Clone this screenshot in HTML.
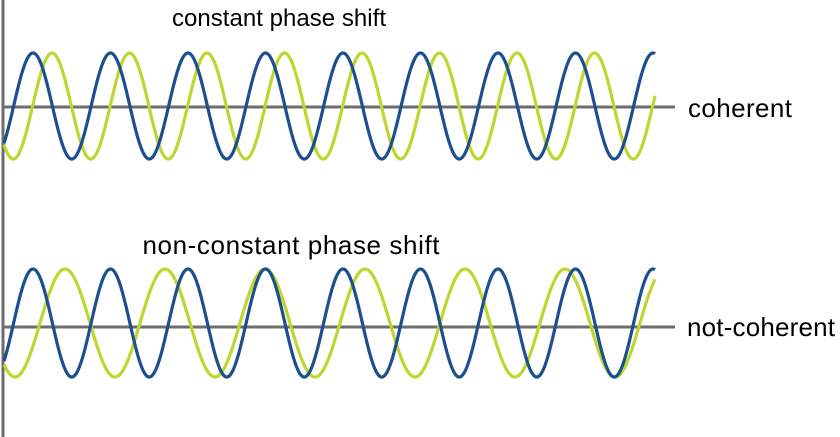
<!DOCTYPE html>
<html><head><meta charset="utf-8"><style>
html,body{margin:0;padding:0;background:#fff;width:840px;height:437px;overflow:hidden}
svg{display:block}
text{font-family:"Liberation Sans",sans-serif;fill:#000}
</style></head><body>
<svg id="s" width="840" height="437" viewBox="0 0 840 437">
<line x1="3" y1="0" x2="3" y2="437" stroke="#6d6d6d" stroke-width="3"/>
<line x1="3" y1="107" x2="675" y2="107" stroke="#6d6d6d" stroke-width="3"/>
<line x1="3" y1="327" x2="675" y2="327" stroke="#6d6d6d" stroke-width="3"/>
<path id="g1" fill="none" stroke="#bed630" stroke-width="3.2"/>
<path id="b1" fill="none" stroke="#1b4f8e" stroke-width="3.2"/>
<path id="g2" fill="none" stroke="#bed630" stroke-width="3.2"/>
<path id="b2" fill="none" stroke="#1b4f8e" stroke-width="3.2"/>
<text x="279" y="26" text-anchor="middle" font-size="24" textLength="214">constant phase shift</text>
<text x="688" y="117" font-size="26" textLength="104">coherent</text>
<text x="291" y="254" text-anchor="middle" font-size="26" textLength="297">non-constant phase shift</text>
<text x="687" y="336" font-size="26" textLength="148">not-coherent</text>
</svg>
<script>
function w(id,c,A,x0,P){var d="";for(var x=4;x<=655;x+=0.5){var y=c-A*Math.cos(2*Math.PI*(x-x0)/P);d+=(d?"L":"M")+x.toFixed(1)+" "+y.toFixed(2);}document.getElementById(id).setAttribute("d",d);}
w("g1",106,53,52,77.5);w("b1",106,53,33,77.5);
w("g2",323,54,65,100);w("b2",323,54,33,77.5);
</script>
</body></html>
